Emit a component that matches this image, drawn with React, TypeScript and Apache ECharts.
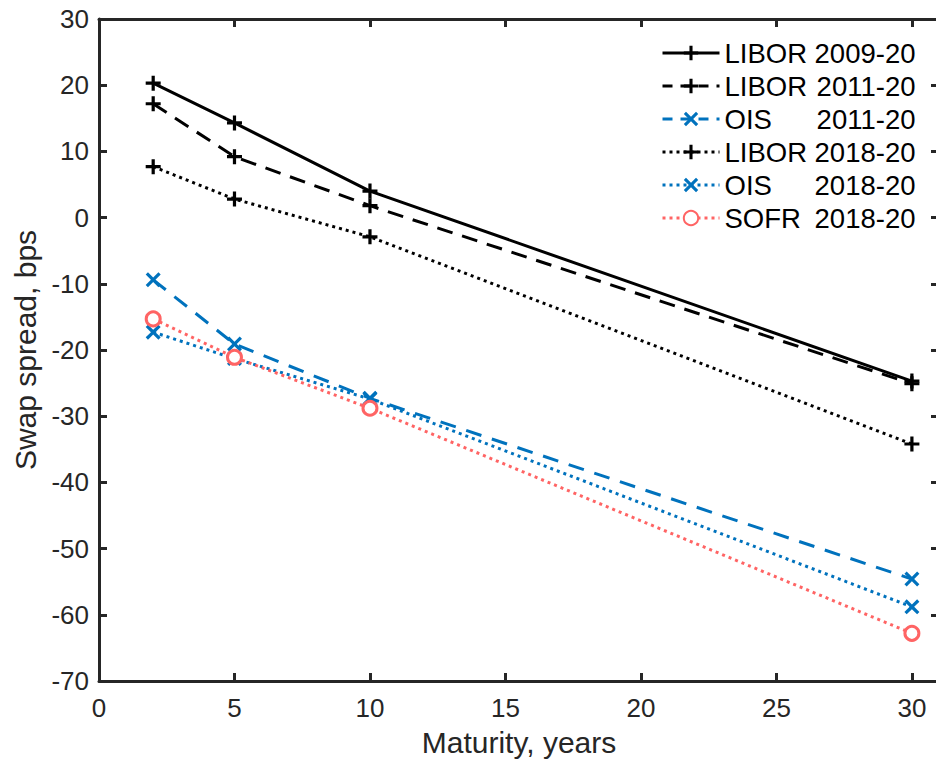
import React, { useEffect, useRef } from 'react';
import * as echarts from 'echarts';

const maturities = [2, 5, 10, 30];
const libor0920 = [20.3, 14.3, 4.0, -24.7];
const libor1120 = [17.2, 9.2, 1.8, -25.1];
const ois1120 = [-9.4, -19.1, -27.3, -54.6];
const libor1820 = [7.7, 2.8, -2.9, -34.2];
const ois1820 = [-17.3, -21.3, -27.4, -58.8];
const sofr1820 = [-15.3, -21.1, -28.8, -62.8];

const names = ['LIBOR 2009-20', 'LIBOR 2011-20', 'OIS 2011-20', 'LIBOR 2018-20', 'OIS 2018-20', 'SOFR 2018-20'];

const FONT = "'Liberation Sans', Arial, Helvetica, sans-serif";
const AXIS_COLOR = '#262626';
const BLACK = '#000000';
const BLUE = '#0072BD';
const RED = '#FF6464';

const PLUS = 'path://M5.5,0H8.5V5.5H14V8.5H8.5V14H5.5V8.5H0V5.5H5.5Z';
const CROSS =
  'path://M2.12,0L7,4.88L11.88,0L14,2.12L9.12,7L14,11.88L11.88,14L7,9.12L2.12,14L0,11.88L4.88,7L0,2.12Z';

const pairs = (ys: number[]) => maturities.map((x, i) => [x, ys[i]]);

export default function App() {
  const ref = useRef<HTMLDivElement>(null);
  useEffect(() => {
    if (!ref.current) return;
    const chart = echarts.init(ref.current, undefined, { renderer: 'svg' });

    const mk = (name: string, ys: number[], color: string, type: any, symbol: string, size: number, hollow = false) => ({
      name,
      type: 'line',
      data: pairs(ys),
      symbol,
      symbolSize: size,
      showAllSymbol: true,
      lineStyle: { color, width: 3, type },
      itemStyle: hollow
        ? { color: '#ffffff', borderColor: color, borderWidth: 3 }
        : { color, borderWidth: 0 },
      emphasis: { disabled: true },
      z: 3,
    });

    const axisCommon = {
      axisLine: { show: true, onZero: false, lineStyle: { color: AXIS_COLOR, width: 3 } },
      axisTick: { show: true, inside: true, length: 8, lineStyle: { color: AXIS_COLOR, width: 3 } },
      splitLine: { show: false },
    };

    const legendTypes: any[] = ['solid', [10, 8], [10, 8], [3, 4], [3, 4], [3, 4]];
    const legendColors = [BLACK, BLACK, BLUE, BLACK, BLUE, RED];
    const LF = 27.5;

    chart.setOption({
      animation: false,
      backgroundColor: '#ffffff',
      grid: { left: 99, width: 840, top: 19, bottom: 82, containLabel: false, outerBoundsMode: 'none' },
      xAxis: [
        {
          type: 'value',
          min: 0,
          max: 31,
          interval: 5,
          position: 'bottom',
          name: 'Maturity, years',
          nameLocation: 'middle',
          nameGap: 46,
          nameTextStyle: { fontSize: 30, color: AXIS_COLOR, fontFamily: FONT },
          axisLabel: {
            margin: 14,
            fontSize: 26,
            color: AXIS_COLOR,
            fontFamily: FONT,
            formatter: (v: number) => (v % 5 === 0 ? String(v) : ''),
          },
          ...axisCommon,
        },
        {
          type: 'value',
          min: 0,
          max: 31,
          interval: 5,
          position: 'top',
          axisLabel: { show: false },
          ...axisCommon,
        },
      ],
      yAxis: [
        {
          type: 'value',
          min: -70,
          max: 30,
          interval: 10,
          position: 'left',
          name: 'Swap spread, bps',
          nameLocation: 'middle',
          nameGap: 57,
          nameTextStyle: { fontSize: 30, color: AXIS_COLOR, fontFamily: FONT },
          axisLabel: { margin: 10, fontSize: 26, color: AXIS_COLOR, fontFamily: FONT },
          ...axisCommon,
        },
        {
          type: 'value',
          min: -70,
          max: 30,
          interval: 10,
          position: 'right',
          axisLabel: { show: false },
          ...axisCommon,
        },
      ],
      legend: {
        show: true,
        orient: 'vertical',
        left: 656,
        top: 34,
        padding: 5,
        itemWidth: 57,
        itemHeight: 18,
        itemGap: 5,
        selectedMode: false,
        backgroundColor: 'transparent',
        data: names.map((n, i) => ({
          name: n,
          lineStyle: { width: 3, color: legendColors[i], type: legendTypes[i] },
        })),
        formatter: (name: string) => {
          const [a, b] = name.split(' ');
          return `{a|${a}}{b|${b}}`;
        },
        textStyle: {
          fontSize: LF,
          fontFamily: FONT,
          color: BLACK,
          rich: {
            a: { width: 88, fontSize: LF, fontFamily: FONT, color: BLACK },
            b: { width: 103, align: 'right', fontSize: LF, fontFamily: FONT, color: BLACK },
          },
        },
      },
      series: [
        mk(names[0], libor0920, BLACK, 'solid', PLUS, 15),
        mk(names[1], libor1120, BLACK, [16, 10], PLUS, 15),
        mk(names[2], ois1120, BLUE, [16, 11], CROSS, 15),
        mk(names[3], libor1820, BLACK, [3, 4], PLUS, 15),
        mk(names[4], ois1820, BLUE, [3, 4], CROSS, 15),
        mk(names[5], sofr1820, RED, [3, 4], 'circle', 14, true),
      ],
    });
    return () => chart.dispose();
  }, []);
  return <div ref={ref} style={{ position: 'fixed', left: 0, top: 0, width: 936, height: 763, background: '#fff' }} />;
}
